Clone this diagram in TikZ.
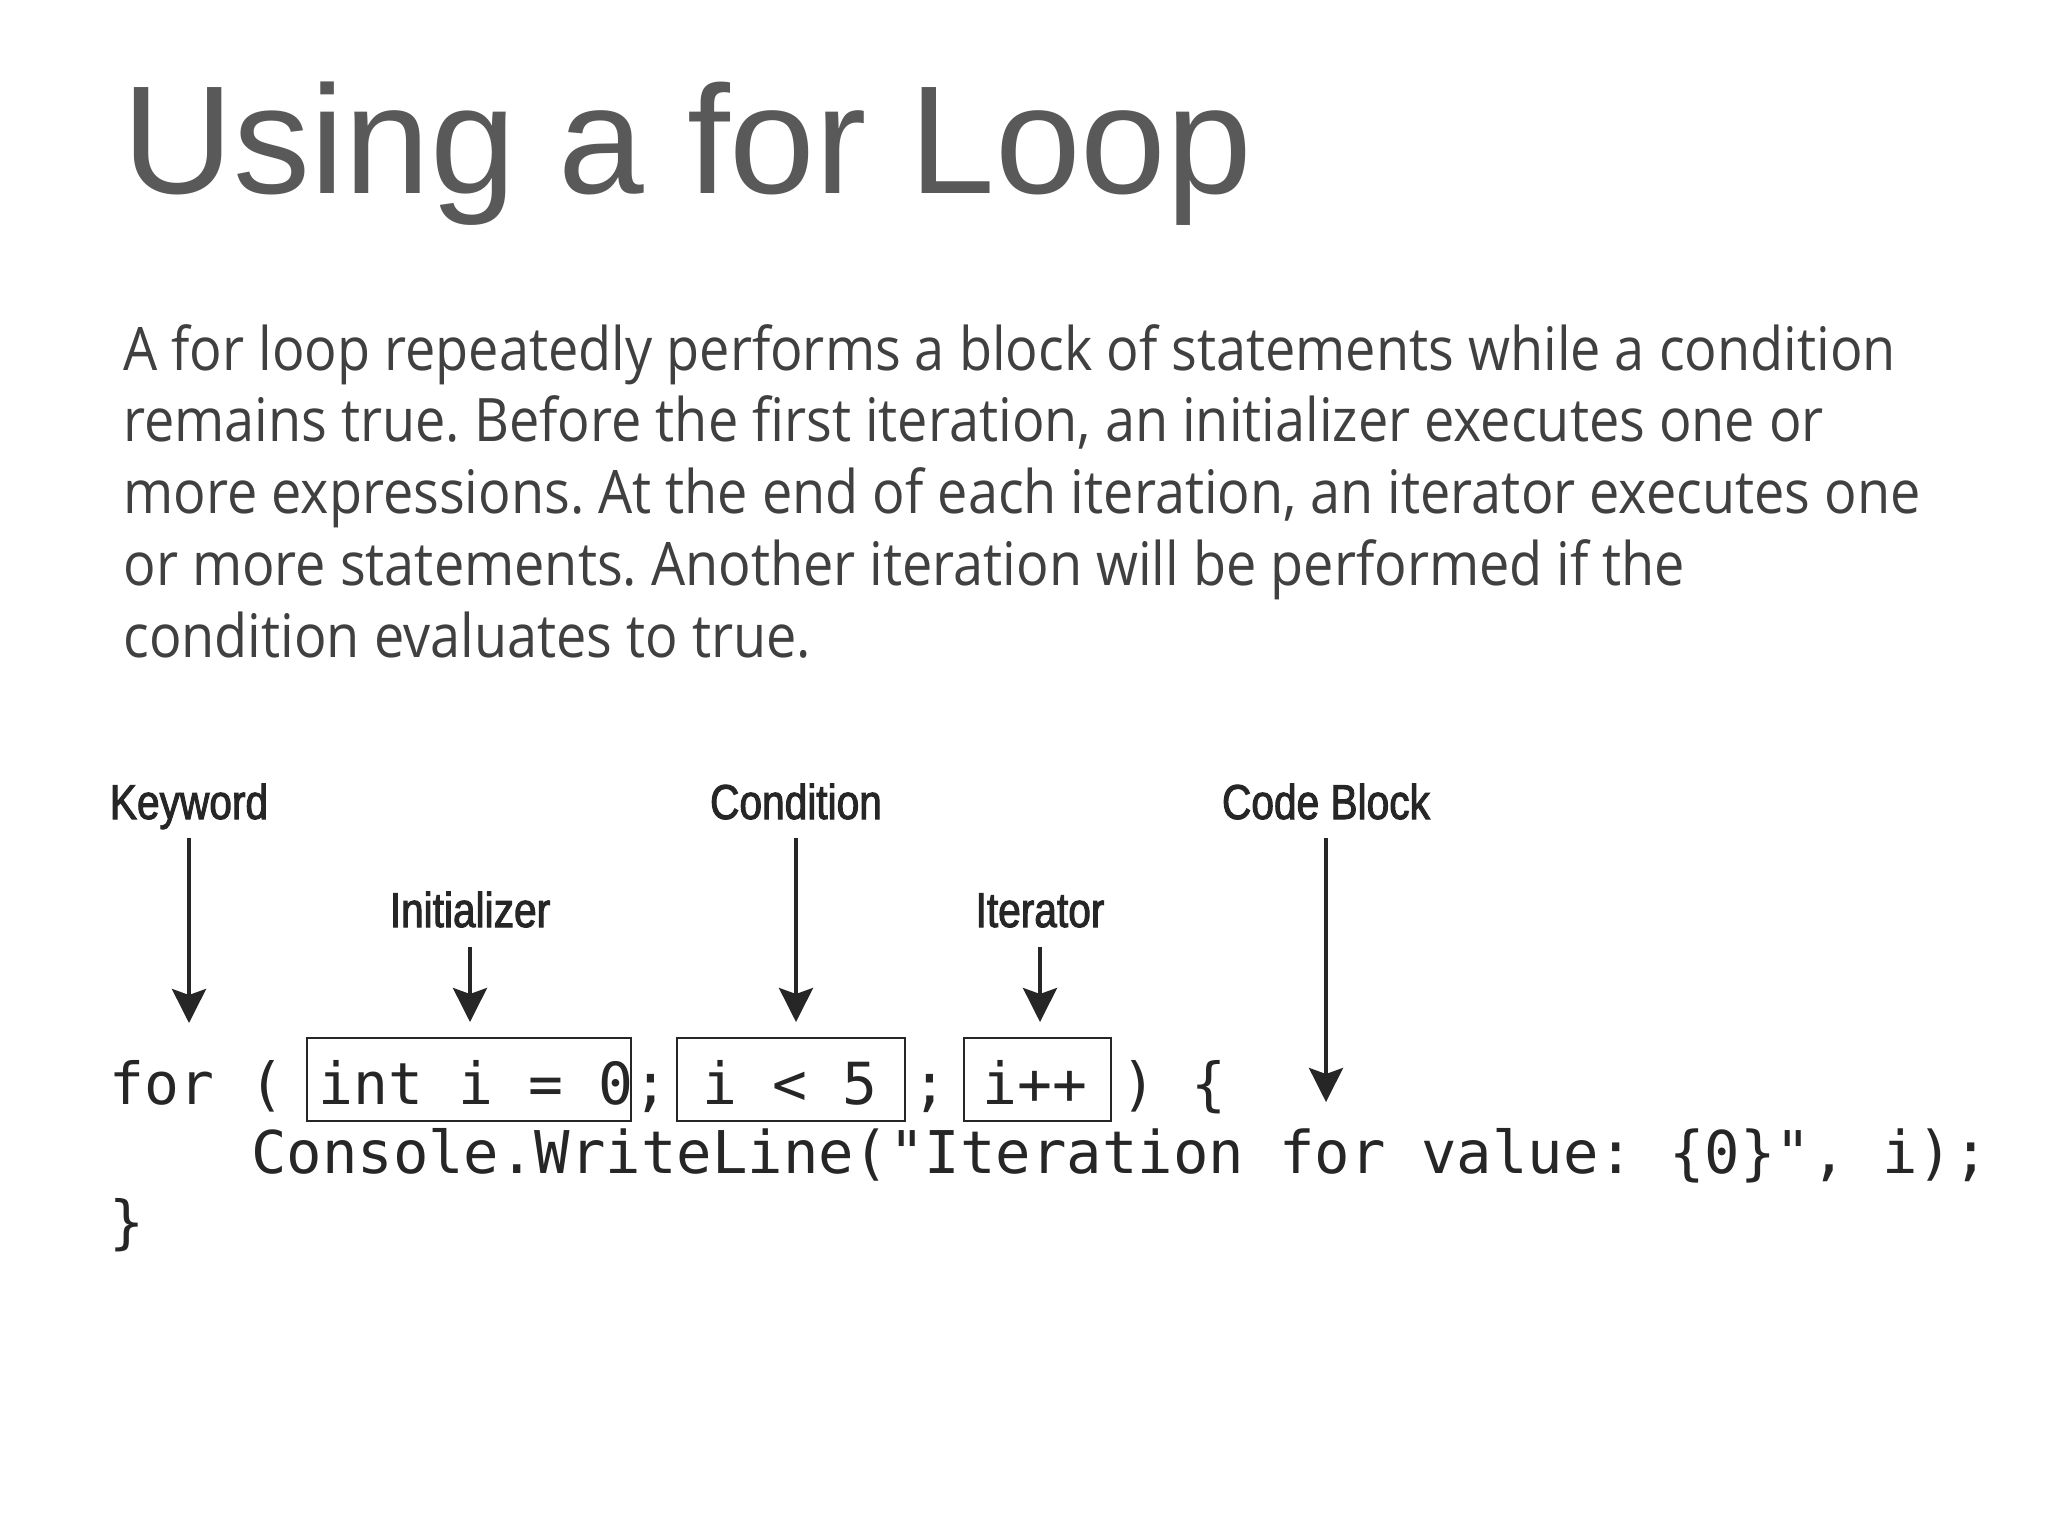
\documentclass[tikz,border=0pt]{standalone}
\usepackage{fontspec}
\usetikzlibrary{arrows.meta,calc}
\newfontfamily\titlefont{Liberation Sans}
\newfontfamily\parafont[FakeStretch=0.9]{Open Sans}
\newfontfamily\labelfont[FakeStretch=0.83,FakeBold=2]{Liberation Sans}
\newfontfamily\codefont{DejaVu Sans Mono}
\definecolor{titlegray}{HTML}{595959}
\definecolor{paragray}{HTML}{404040}
\definecolor{codeink}{HTML}{262626}
\frenchspacing
\begin{document}
\begin{tikzpicture}[x=0.5pt,y=-0.5pt,
  titletext/.style={anchor=base west,inner sep=0pt,text=titlegray,font=\titlefont\fontsize{77}{90}\selectfont},
  paraline/.style={anchor=base west,inner sep=0pt,text=paragray,font=\parafont\fontsize{30}{36}\selectfont\frenchspacing},
  lbl/.style={anchor=base,inner sep=0pt,text=codeink,font=\labelfont\fontsize{24.5}{28}\selectfont},
  codeline/.style={anchor=base west,inner sep=0pt,text=codeink,font=\codefont\fontsize{29.45}{34}\selectfont},
  codelineA/.style={codeline,font=\codefont\fontsize{29.0}{34}\selectfont},
  codebox/.style={draw=codeink,line width=1pt,inner sep=0pt,minimum height=41.5pt},
  pointer/.style={draw=codeink,line width=1.9pt,-{Stealth[length=17pt,width=17pt,inset=3pt]}},
]
\fill[white] (0,0) rectangle (2048,1536);
\useasboundingbox (0,0) rectangle (2048,1536);

\node[titletext] (title) at (122,193) {Using a for Loop};

\node[paraline] (p1) at (123,370) {A for loop repeatedly performs a block of statements while a condition};
\node[paraline] (p2) at (123,441) {remains true. Before the first iteration, an initializer executes one or};
\node[paraline] (p3) at (123,513) {more expressions. At the end of each iteration, an iterator executes one};
\node[paraline] (p4) at (123,585) {or more statements. Another iteration will be performed if the};
\node[paraline] (p5) at (123,657) {condition evaluates to true.};

% code
\node[codelineA] (c1) at (109,1104) {for ( int i = 0; i < 5 ; i++ ) \{};
\node[codeline] (c2) at (250.8,1173) {Console.WriteLine("Iteration for value: \{0\}", i);};
\node[codelineA] (c3) at (109,1242) {\}};

\node[codebox,minimum width=162pt] (init) at (469,1079.5) {};
\node[codebox,minimum width=114pt] (cond) at (791,1079.5) {};
\node[codebox,minimum width=73.5pt] (iter) at (1037.5,1079.5) {};

% labels
\node[lbl] (kwl) at (189,819) {Keyword};
\node[lbl] (initl) at (470,927) {Initializer};
\node[lbl] (condl) at (796,819) {Condition};
\node[lbl] (iterl) at (1040,927) {Iterator};
\node[lbl] (cbl) at (1326,819) {Code Block};

\coordinate (kwtip) at (189,1023);
\coordinate (cbtip) at (1326,1102);

\draw[pointer] ($(kwl.base)+(0,19)$) -- (kwtip);
\draw[pointer] ($(initl.base)+(0,20)$) -- ($(initl.base |- init.north)+(0,-15)$);
\draw[pointer] ($(condl.base)+(0,19)$) -- ($(condl.base |- cond.north)+(0,-15)$);
\draw[pointer] ($(iterl.base)+(0,20)$) -- ($(iterl.base |- iter.north)+(0,-15)$);
\draw[pointer] ($(cbl.base)+(0,19)$) -- (cbtip);
\end{tikzpicture}
\end{document}
